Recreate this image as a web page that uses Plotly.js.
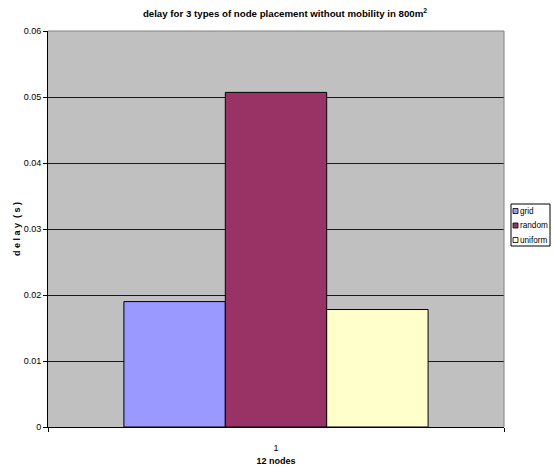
<!DOCTYPE html>
<html>
<head>
<meta charset="utf-8">
<script src="https://cdn.plot.ly/plotly-3.0.1.min.js"></script>
<style>
  html, body { margin: 0; padding: 0; background: #ffffff; }
  #chart { width: 554px; height: 471px; }
</style>
</head>
<body>
<div id="chart"></div>
<script>
// Mean delay per node placement scheme, 12 nodes, no mobility
const categories = ['1'];
const seriesNames = ['grid', 'random', 'uniform'];
const gridDelay = [0.019];
const randomDelay = [0.0507];
const uniformDelay = [0.0178];
const seriesColors = ['#9999FF', '#993366', '#FFFFCC'];
const yTicks = [0, 0.01, 0.02, 0.03, 0.04, 0.05, 0.06];

const seriesValues = [gridDelay, randomDelay, uniformDelay];

const W = 554, H = 471;
const M = { l: 48, r: 50, t: 31, b: 44 };
const plotW = W - M.l - M.r, plotH = H - M.t - M.b;
// pixel -> paper coordinates
const px = x => (x - M.l) / plotW;
const py = y => (H - M.b - y) / plotH;

const traces = seriesNames.map((name, i) => ({
  type: 'bar',
  name: name,
  x: categories,
  y: seriesValues[i],
  marker: { color: seriesColors[i], line: { color: '#000000', width: 1 } },
  hoverinfo: 'skip',
  showlegend: false
}));

const font = 'Liberation Sans, Arial, sans-serif';

// compact boxed legend at the right of the plot area
const legendShapes = [
  { type: 'rect', xref: 'paper', yref: 'paper',
    x0: px(511), x1: px(550), y0: py(246), y1: py(204),
    fillcolor: '#ffffff', line: { color: '#000000', width: 1 } }
];
const legendNotes = [];
seriesNames.forEach((name, i) => {
  const yc = 211 + i * 14.5;
  legendShapes.push({ type: 'rect', xref: 'paper', yref: 'paper',
    x0: px(513), x1: px(518), y0: py(yc + 2.5), y1: py(yc - 2.5),
    fillcolor: seriesColors[i], line: { color: '#000000', width: 0.8 } });
  legendNotes.push({ xref: 'paper', yref: 'paper', x: px(518), y: py(yc),
    xanchor: 'left', yanchor: 'middle', showarrow: false, text: name,
    font: { family: font, size: 8.2, color: '#000000' } });
});

const layout = {
  width: W,
  height: H,
  margin: { l: M.l, r: M.r, t: M.t, b: M.b, pad: 0 },
  paper_bgcolor: '#ffffff',
  plot_bgcolor: '#C0C0C0',
  barmode: 'group',
  bargap: 0.333,
  bargroupgap: 0,
  showlegend: false,
  title: {
    text: 'delay for 3 types of node placement without mobility in 800m<sup>2</sup>',
    font: { family: font, size: 9.7, color: '#000000', weight: 'bold' },
    x: px(285), xref: 'paper', xanchor: 'center',
    y: 1 - 14 / H, yref: 'container', yanchor: 'middle'
  },
  xaxis: {
    type: 'category',
    range: [-0.5, 0.5],
    showgrid: false,
    showline: true,
    linecolor: '#000000',
    linewidth: 1,
    ticks: 'outside',
    tickson: 'boundaries',
    ticklen: 4,
    tickcolor: '#000000',
    ticklabelstandoff: 12,
    tickfont: { family: font, size: 9, color: '#000000' },
    title: {
      text: '12 nodes',
      font: { family: font, size: 9, color: '#000000', weight: 'bold' },
      standoff: 5
    },
    zeroline: false,
    automargin: false
  },
  yaxis: {
    range: [0, 0.06],
    tickvals: yTicks,
    ticktext: yTicks.map(v => v === 0 ? '0' : v.toFixed(2)),
    showgrid: true,
    gridcolor: '#1a1a1a',
    gridwidth: 1,
    showline: true,
    linecolor: '#000000',
    linewidth: 1,
    ticks: 'outside',
    ticklen: 4,
    tickcolor: '#000000',
    tickfont: { family: font, size: 9, color: '#000000' },
    title: {
      text: 'd e l a y  ( s )',
      font: { family: font, size: 9, color: '#000000', weight: 'bold' },
      standoff: 1
    },
    zeroline: false,
    automargin: false
  },
  shapes: [
    // light frame on the top and right of the plot area
    { type: 'line', xref: 'paper', yref: 'paper', x0: 0, x1: 1, y0: 1, y1: 1,
      line: { color: '#808080', width: 1 } },
    { type: 'line', xref: 'paper', yref: 'paper', x0: 1, x1: 1, y0: 0, y1: 1,
      line: { color: '#808080', width: 1 } }
  ].concat(legendShapes),
  annotations: legendNotes
};

Plotly.newPlot('chart', traces, layout, { staticPlot: true, displayModeBar: false });
</script>
</body>
</html>
